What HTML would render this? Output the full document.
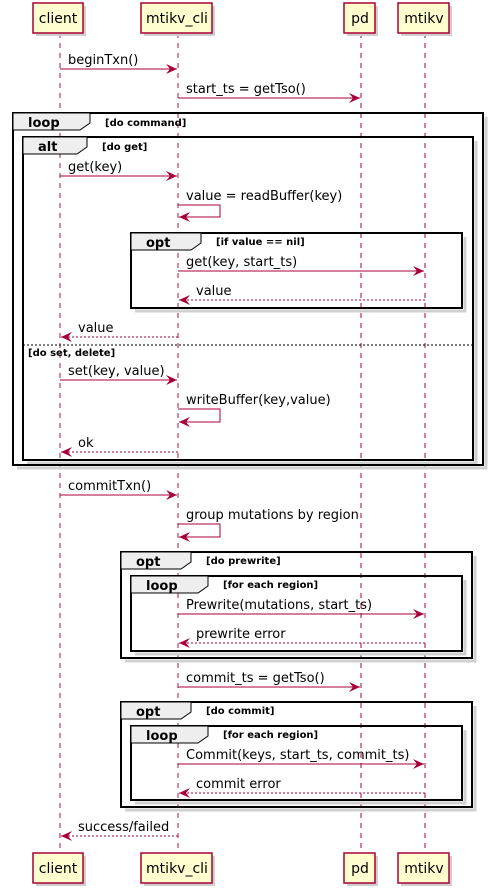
<!DOCTYPE html>
<html><head><meta charset="utf-8"><style>html,body{margin:0;padding:0;background:#fff}svg{display:block}</style></head><body>
<svg width="493" height="894" xmlns="http://www.w3.org/2000/svg" font-family="DejaVu Sans, Liberation Sans, sans-serif">
<defs>
<marker id="a" markerWidth="12" markerHeight="10" refX="11" refY="5" orient="auto" markerUnits="userSpaceOnUse"><path d="M0,0 L11,5 L0,10 L4,5 Z" fill="#A80036"/></marker>
</defs>
<!-- lifelines -->
<g stroke-dasharray="5,5">
<line x1="60" y1="33" x2="60" y2="853" stroke="#d68aa6" stroke-width="2"/>
<line x1="178" y1="33" x2="178" y2="853" stroke="#d68aa6" stroke-width="2"/>
<line x1="361" y1="33" x2="361" y2="853" stroke="#A80036" stroke-width="1"/>
<line x1="425" y1="33" x2="425" y2="853" stroke="#A80036" stroke-width="1"/>
</g>
<!-- participant shadows -->
<g fill="#cfcfcf">
<rect x="36" y="6" width="50" height="30"/><rect x="144" y="6" width="71" height="30"/><rect x="347" y="6" width="31" height="30"/><rect x="401" y="6" width="51" height="30"/>
<rect x="36" y="856" width="50" height="30"/><rect x="144" y="856" width="71" height="30"/><rect x="347" y="856" width="31" height="30"/><rect x="401" y="856" width="51" height="30"/>
</g>
<g fill="#FEFECE" stroke="#A80036" stroke-width="1.5">
<rect x="33" y="3" width="50" height="30"/><rect x="141" y="3" width="71" height="30"/><rect x="344" y="3" width="31" height="30"/><rect x="398" y="3" width="51" height="30"/>
<rect x="33" y="853" width="50" height="30"/><rect x="141" y="853" width="71" height="30"/><rect x="344" y="853" width="31" height="30"/><rect x="398" y="853" width="51" height="30"/>
</g>
<g font-size="14" fill="#000" text-anchor="middle">
<text x="58" y="23">client</text><text x="177" y="23">mtikv_cli</text><text x="360" y="23">pd</text><text x="424" y="23">mtikv</text>
<text x="58" y="873">client</text><text x="177" y="873">mtikv_cli</text><text x="360" y="873">pd</text><text x="424" y="873">mtikv</text>
</g>
<!-- frame shadows -->
<g fill="none" stroke="#d0d0d0" stroke-width="3">
<path d="M486,117 V468 H17"/>
<path d="M476,141 V463 H27"/>
<path d="M465,237 V311 H135"/>
<path d="M475,556 V661 H125"/>
<path d="M465,580 V654 H135"/>
<path d="M475,706 V810 H125"/>
<path d="M465,730 V803 H135"/>
</g>
<!-- frames -->
<g fill="none" stroke="#000" stroke-width="2">
<rect x="13" y="113" width="470" height="352"/>
<rect x="23" y="137" width="450" height="323"/>
<rect x="131" y="233" width="331" height="75"/>
<rect x="121" y="552" width="351" height="106"/>
<rect x="131" y="576" width="331" height="75"/>
<rect x="121" y="702" width="351" height="105"/>
<rect x="131" y="726" width="331" height="74"/>
</g>
<g fill="#EEEEEE" stroke="#000" stroke-width="1">
<path d="M13,113 H90 V123 L80,130 H13 Z"/>
<path d="M23,137 H87 V147 L77,154 H23 Z"/>
<path d="M131,233 H201 V243 L191,250 H131 Z"/>
<path d="M121,552 H191 V562 L181,569 H121 Z"/>
<path d="M131,576 H208 V586 L198,593 H131 Z"/>
<path d="M121,702 H191 V712 L181,719 H121 Z"/>
<path d="M131,726 H208 V736 L198,743 H131 Z"/>
</g>
<line x1="23" y1="345" x2="473" y2="345" stroke="#000" stroke-dasharray="2,2"/>
<g font-weight="bold" font-size="13"><text x="28" y="127">loop</text><text x="38" y="151">alt</text><text x="146" y="247">opt</text><text x="136" y="566">opt</text><text x="146" y="590">loop</text><text x="136" y="716">opt</text><text x="146" y="740">loop</text></g>
<g font-weight="bold" font-size="10"><text x="105" y="126">[do command]</text><text x="102" y="150">[do get]</text><text x="216" y="245">[if value == nil]</text><text x="28" y="356">[do set, delete]</text><text x="206" y="564">[do prewrite]</text><text x="223" y="588">[for each region]</text><text x="206" y="714">[do commit]</text><text x="223" y="738">[for each region]</text></g>
<!-- messages -->
<g stroke="#A80036" stroke-width="1" fill="none" marker-end="url(#a)">
<line x1="60" y1="69" x2="177" y2="69"/>
<line x1="178" y1="98" x2="360" y2="98"/>
<line x1="60" y1="176" x2="177" y2="176"/>
<path d="M178,205 H220 V217 H179"/>
<line x1="178" y1="271" x2="424" y2="271"/>
<line x1="425" y1="300" x2="179" y2="300" stroke-dasharray="2,2"/>
<line x1="178" y1="337" x2="61" y2="337" stroke-dasharray="2,2"/>
<line x1="60" y1="380" x2="177" y2="380"/>
<path d="M178,409 H220 V422 H179"/>
<line x1="178" y1="452" x2="61" y2="452" stroke-dasharray="2,2"/>
<line x1="60" y1="495" x2="177" y2="495"/>
<path d="M178,524 H220 V537 H179"/>
<line x1="178" y1="614" x2="424" y2="614"/>
<line x1="425" y1="643" x2="179" y2="643" stroke-dasharray="2,2"/>
<line x1="178" y1="687" x2="360" y2="687"/>
<line x1="178" y1="764" x2="424" y2="764"/>
<line x1="425" y1="793" x2="179" y2="793" stroke-dasharray="2,2"/>
<line x1="178" y1="836" x2="61" y2="836" stroke-dasharray="2,2"/>
</g>
<g font-size="13" fill="#000">
<text x="68" y="64">beginTxn()</text>
<text x="186" y="93">start_ts = getTso()</text>
<text x="68" y="171">get(key)</text>
<text x="186" y="200">value = readBuffer(key)</text>
<text x="186" y="266">get(key, start_ts)</text>
<text x="196" y="295">value</text>
<text x="78" y="332">value</text>
<text x="68" y="375">set(key, value)</text>
<text x="186" y="404">writeBuffer(key,value)</text>
<text x="78" y="447">ok</text>
<text x="68" y="490">commitTxn()</text>
<text x="186" y="519">group mutations by region</text>
<text x="186" y="609">Prewrite(mutations, start_ts)</text>
<text x="196" y="638">prewrite error</text>
<text x="186" y="682">commit_ts = getTso()</text>
<text x="186" y="759">Commit(keys, start_ts, commit_ts)</text>
<text x="196" y="788">commit error</text>
<text x="78" y="831">success/failed</text>
</g>
</svg>
</body></html>
